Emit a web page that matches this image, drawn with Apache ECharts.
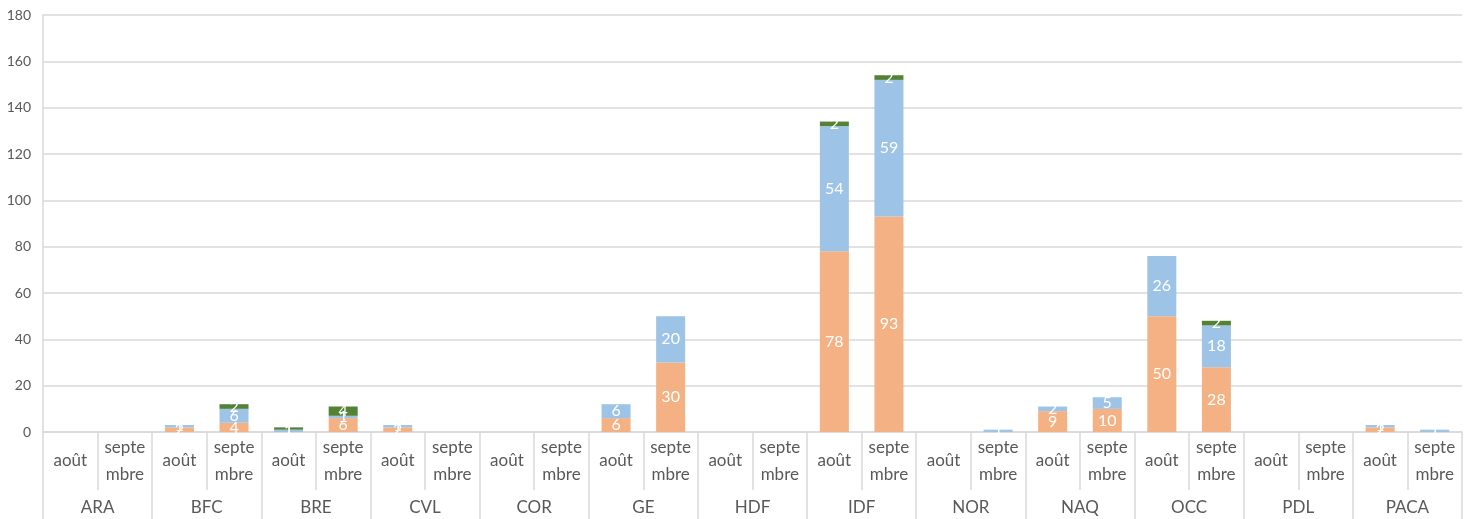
<!DOCTYPE html>
<html><head><meta charset="utf-8">
<script src="https://cdn.jsdelivr.net/npm/echarts@6/dist/echarts.min.js"></script>
<style>html,body{margin:0;padding:0;background:#fff}#c{width:1466px;height:519px}</style>
</head><body><div id="c"></div>
<script>
const regions = ['ARA','BFC','BRE','CVL','COR','GE','HDF','IDF','NOR','NAQ','OCC','PDL','PACA'];
const months = ['août','septe\nmbre'];
const seriesOrange = [0,0, 2,4, 0,6, 2,0, 0,0, 6,30, 0,0, 78,93, 0,0, 9,10, 50,28, 0,0, 2,0];
const seriesBlue   = [0,0, 1,6, 1,1, 1,0, 0,0, 6,20, 0,0, 54,59, 0,1, 2,5, 26,18, 0,0, 1,1];
const seriesGreen  = [0,0, 0,2, 1,4, 0,0, 0,0, 0,0, 0,0, 2,2, 0,0, 0,0, 0,2, 0,0, 0,0];
const yTicks = {min:0, max:180, interval:20};

const cats = [];
regions.forEach(r => months.forEach(m => cats.push(m)));
const font = 'Lato, "Open Sans", sans-serif';
const lbl = {show:true, position:'inside', color:'#fff', fontSize:16, fontFamily:font,
  formatter: p => p.value === 0 ? '' : p.value};
function mk(name, data, color){
  return {name, type:'bar', stack:'s', data, barWidth:29, itemStyle:{color}, label:lbl, xAxisIndex:0};
}
const chart = echarts.init(document.getElementById('c'));
chart.setOption({
  animation:false,
  grid:{left:43, right:4, top:15, bottom:87},
  xAxis:[
    {type:'category', data:cats, position:'bottom',
     axisLine:{show:true, lineStyle:{color:'#d9d9d9', width:1.5}},
     axisTick:{show:true, interval:0, length:58, lineStyle:{color:'#d9d9d9', width:1.5}},
     axisLabel:{interval:0, color:'#595959', fontSize:17, fontFamily:font, lineHeight:27, verticalAlign:'middle', margin:29}},
    {type:'category', data:regions, position:'bottom',
     axisLine:{show:false},
     axisTick:{show:true, interval:0, length:90, lineStyle:{color:'#d9d9d9', width:1.5}},
     axisLabel:{interval:0, color:'#595959', fontSize:17, fontFamily:font, verticalAlign:'middle', margin:76}}
  ],
  yAxis:{type:'value', min:yTicks.min, max:yTicks.max, interval:yTicks.interval,
    axisLine:{show:true, lineStyle:{color:'#d9d9d9', width:1.5}},
    splitLine:{lineStyle:{color:'#d9d9d9', width:1.5}},
    axisLabel:{color:'#595959', fontSize:14, fontFamily:font, margin:12}},
  series:[
    mk('orange', seriesOrange, '#F4B183'),
    mk('bleu', seriesBlue, '#9DC3E6'),
    mk('vert', seriesGreen, '#548235')
  ]
});
</script></body></html>
